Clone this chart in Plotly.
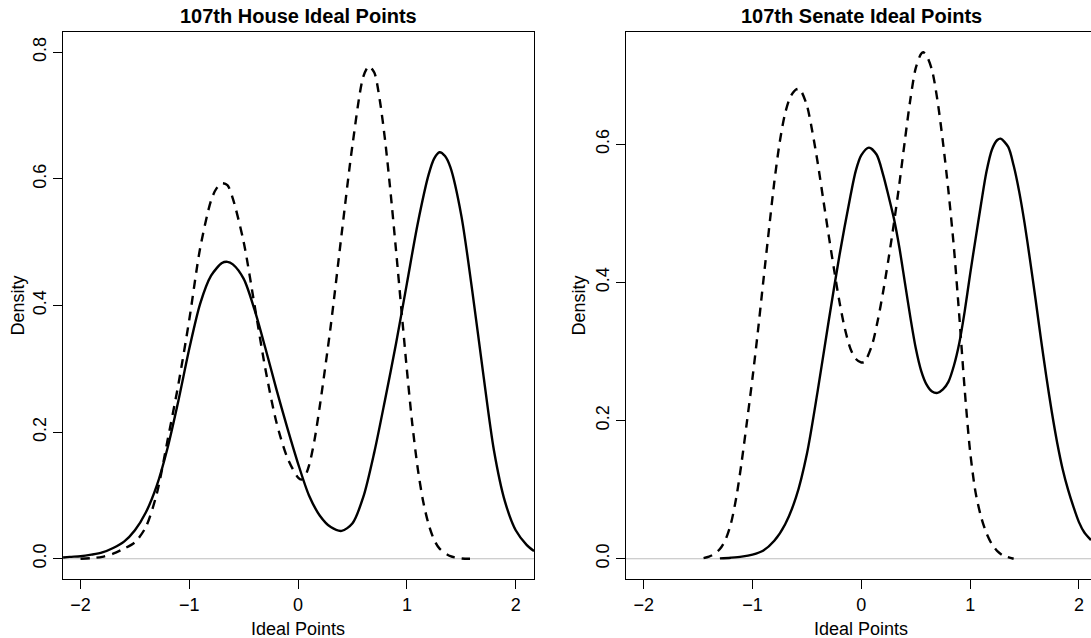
import plotly.graph_objects as go

# ---------------- data ----------------
house_solid_x = [-2.16, -2.1, -2.0, -1.9, -1.8, -1.7, -1.6, -1.5, -1.4, -1.3, -1.2, -1.1, -1.0, -0.9,
                 -0.8, -0.7, -0.65, -0.6, -0.5, -0.4, -0.3, -0.2, -0.1, 0.0, 0.1, 0.2, 0.3, 0.4, 0.5,
                 0.6, 0.7, 0.8, 0.9, 1.0, 1.1, 1.2, 1.25, 1.3, 1.35, 1.4, 1.5, 1.6, 1.7, 1.8, 1.9, 2.0,
                 2.1, 2.168]
house_solid_y = [0.002, 0.003, 0.004, 0.0065, 0.010, 0.017, 0.027, 0.045, 0.073, 0.115, 0.175, 0.250,
                 0.332, 0.403, 0.447, 0.467, 0.469, 0.465, 0.442, 0.393, 0.332, 0.268, 0.207, 0.150,
                 0.100, 0.068, 0.050, 0.044, 0.056, 0.098, 0.168, 0.252, 0.340, 0.435, 0.530, 0.607,
                 0.632, 0.642, 0.636, 0.618, 0.542, 0.424, 0.294, 0.171, 0.091, 0.045, 0.022, 0.012]

house_dash_x = [-2.0, -1.9, -1.8, -1.7, -1.6, -1.5, -1.4, -1.3, -1.2, -1.1, -1.0, -0.9, -0.8, -0.75,
                -0.7, -0.65, -0.6, -0.5, -0.4, -0.3, -0.2, -0.1, 0.0, 0.03, 0.06, 0.1, 0.15, 0.2, 0.3,
                0.4, 0.5, 0.6, 0.65, 0.7, 0.75, 0.8, 0.85, 0.9, 0.95, 1.0, 1.05, 1.1, 1.15, 1.2, 1.25,
                1.3, 1.4, 1.5, 1.58]
house_dash_y = [0.0, 0.001, 0.003, 0.008, 0.016, 0.026, 0.050, 0.102, 0.187, 0.276, 0.378, 0.491,
                0.566, 0.585, 0.593, 0.590, 0.569, 0.500, 0.400, 0.299, 0.216, 0.160, 0.128, 0.125,
                0.129, 0.147, 0.187, 0.242, 0.368, 0.513, 0.654, 0.762, 0.778, 0.768, 0.725, 0.660,
                0.578, 0.487, 0.392, 0.298, 0.212, 0.142, 0.090, 0.054, 0.030, 0.016, 0.004, 0.0005,
                0.0]

senate_solid_x = [-1.3, -1.2, -1.1, -1.0, -0.9, -0.8, -0.7, -0.6, -0.5, -0.4, -0.3, -0.2, -0.1, -0.05,
                  0.0, 0.07, 0.14, 0.2, 0.25, 0.3, 0.35, 0.4, 0.45, 0.5, 0.55, 0.6, 0.65, 0.7, 0.75,
                  0.8, 0.85, 0.9, 0.95, 1.0, 1.05, 1.1, 1.15, 1.2, 1.25, 1.28, 1.35, 1.4, 1.45, 1.5,
                  1.55, 1.6, 1.65, 1.7, 1.75, 1.8, 1.85, 1.9, 1.95, 2.0, 2.05, 2.111]
senate_solid_y = [0.0005, 0.0015, 0.003, 0.006, 0.012, 0.026, 0.050, 0.089, 0.152, 0.244, 0.344, 0.440,
                  0.525, 0.562, 0.584, 0.595, 0.585, 0.556, 0.525, 0.492, 0.450, 0.400, 0.350, 0.305,
                  0.272, 0.252, 0.242, 0.240, 0.245, 0.256, 0.279, 0.312, 0.358, 0.412, 0.463, 0.513,
                  0.560, 0.592, 0.606, 0.608, 0.596, 0.569, 0.532, 0.486, 0.433, 0.377, 0.319, 0.264,
                  0.213, 0.168, 0.130, 0.100, 0.075, 0.053, 0.038, 0.027]

senate_dash_x = [-1.45, -1.4, -1.35, -1.3, -1.25, -1.2, -1.15, -1.1, -1.05, -1.0, -0.95, -0.9, -0.85,
                 -0.8, -0.75, -0.7, -0.65, -0.6, -0.57, -0.55, -0.5, -0.45, -0.4, -0.35, -0.3, -0.25,
                 -0.2, -0.15, -0.1, -0.05, 0.0, 0.03, 0.05, 0.1, 0.15, 0.2, 0.25, 0.3, 0.35, 0.4, 0.45,
                 0.5, 0.55, 0.57, 0.6, 0.65, 0.7, 0.75, 0.8, 0.85, 0.9, 0.95, 1.0, 1.05, 1.1, 1.15,
                 1.2, 1.25, 1.3, 1.4]
senate_dash_y = [0.001, 0.003, 0.007, 0.014, 0.027, 0.050, 0.088, 0.140, 0.200, 0.262, 0.330, 0.403,
                 0.475, 0.545, 0.603, 0.645, 0.669, 0.679, 0.680, 0.676, 0.656, 0.618, 0.572, 0.520,
                 0.468, 0.418, 0.371, 0.332, 0.304, 0.289, 0.284, 0.285, 0.290, 0.310, 0.344, 0.386,
                 0.434, 0.486, 0.543, 0.605, 0.664, 0.710, 0.731, 0.733, 0.728, 0.707, 0.663, 0.603,
                 0.533, 0.452, 0.352, 0.245, 0.155, 0.096, 0.061, 0.037, 0.021, 0.011, 0.005, 0.0]

titles = ["107th House Ideal Points", "107th Senate Ideal Points"]
x_ticks = [-2, -1, 0, 1, 2]
house_y_ticks = [0.0, 0.2, 0.4, 0.6, 0.8]
senate_y_ticks = [0.0, 0.2, 0.4, 0.6]
x_label = "Ideal Points"
y_label = "Density"

# ---------------- figure ----------------
W, H = 1091, 638
FONT = "Liberation Sans, Arial, Helvetica, sans-serif"

fig = go.Figure()

solid = dict(color="black", width=2.4, shape="spline", smoothing=0.8)
dashed = dict(color="black", width=2.4, dash="9px,7px", shape="spline", smoothing=0.8)

fig.add_trace(go.Scatter(x=house_solid_x, y=house_solid_y, mode="lines", line=solid,
                         xaxis="x", yaxis="y", showlegend=False))
fig.add_trace(go.Scatter(x=house_dash_x, y=house_dash_y, mode="lines", line=dashed,
                         xaxis="x", yaxis="y", showlegend=False))
fig.add_trace(go.Scatter(x=senate_solid_x, y=senate_solid_y, mode="lines", line=solid,
                         xaxis="x2", yaxis="y2", showlegend=False))
fig.add_trace(go.Scatter(x=senate_dash_x, y=senate_dash_y, mode="lines", line=dashed,
                         xaxis="x2", yaxis="y2", showlegend=False))

box_top, box_bot = 32, 579
ydom = [1 - box_bot / H, 1 - box_top / H]
left_l, left_r = 63, 534
right_l = 626

axis_common = dict(showgrid=False, zeroline=False, showline=True, linecolor="black", linewidth=1.3,
                   ticks="outside", ticklen=9, tickwidth=1.1, tickcolor="black",
                   tickfont=dict(family=FONT, size=18, color="black"))

house_max = 0.8
senate_max = max(senate_dash_y + senate_solid_y)

fig.update_layout(
    width=W, height=H, margin=dict(l=0, r=0, t=0, b=0),
    paper_bgcolor="white", plot_bgcolor="white",
    xaxis=dict(domain=[left_l / W, left_r / W], range=[-2.161, 2.168], anchor="y", mirror=True,
               tickvals=x_ticks, **axis_common),
    yaxis=dict(domain=ydom, range=[-0.04 * house_max, 1.04 * house_max], anchor="x", mirror=True,
               tickvals=house_y_ticks, tickformat=".1f", tickangle=-90, **axis_common),
    xaxis2=dict(domain=[right_l / W, 1.0], range=[-2.163, -2.163 + (W - right_l) / 108.8], anchor="y2",
                mirror=True, tickvals=x_ticks, **axis_common),
    yaxis2=dict(domain=ydom, range=[-0.04 * senate_max, 1.04 * senate_max], anchor="x2", mirror=False,
                tickvals=senate_y_ticks, tickformat=".1f", tickangle=-90, **axis_common),
)

# zero reference lines (gray)
for xr, yr in (("x domain", "y"), ("x2 domain", "y2")):
    fig.add_shape(type="line", xref=xr, yref=yr, x0=0, x1=1, y0=0, y1=0,
                  line=dict(color="#bebebe", width=1.2), layer="below")

# titles and axis labels
ymid = 1 - ((box_top + box_bot) / 2) / H
centers = [298 / W, 861 / W]
for cx, t in zip(centers, titles):
    fig.add_annotation(text="<b>%s</b>" % t, xref="paper", yref="paper", x=cx, y=1 - 16 / H,
                       showarrow=False, xanchor="center", yanchor="middle",
                       font=dict(family=FONT, size=20, color="black"))
    fig.add_annotation(text=x_label, xref="paper", yref="paper", x=cx, y=1 - 629 / H,
                       showarrow=False, xanchor="center", yanchor="middle",
                       font=dict(family=FONT, size=18, color="black"))
for px in (17, 578):
    fig.add_annotation(text=y_label, xref="paper", yref="paper", x=px / W, y=ymid, textangle=-90,
                       showarrow=False, xanchor="center", yanchor="middle",
                       font=dict(family=FONT, size=18, color="black"))

fig.write_html("out.html")
